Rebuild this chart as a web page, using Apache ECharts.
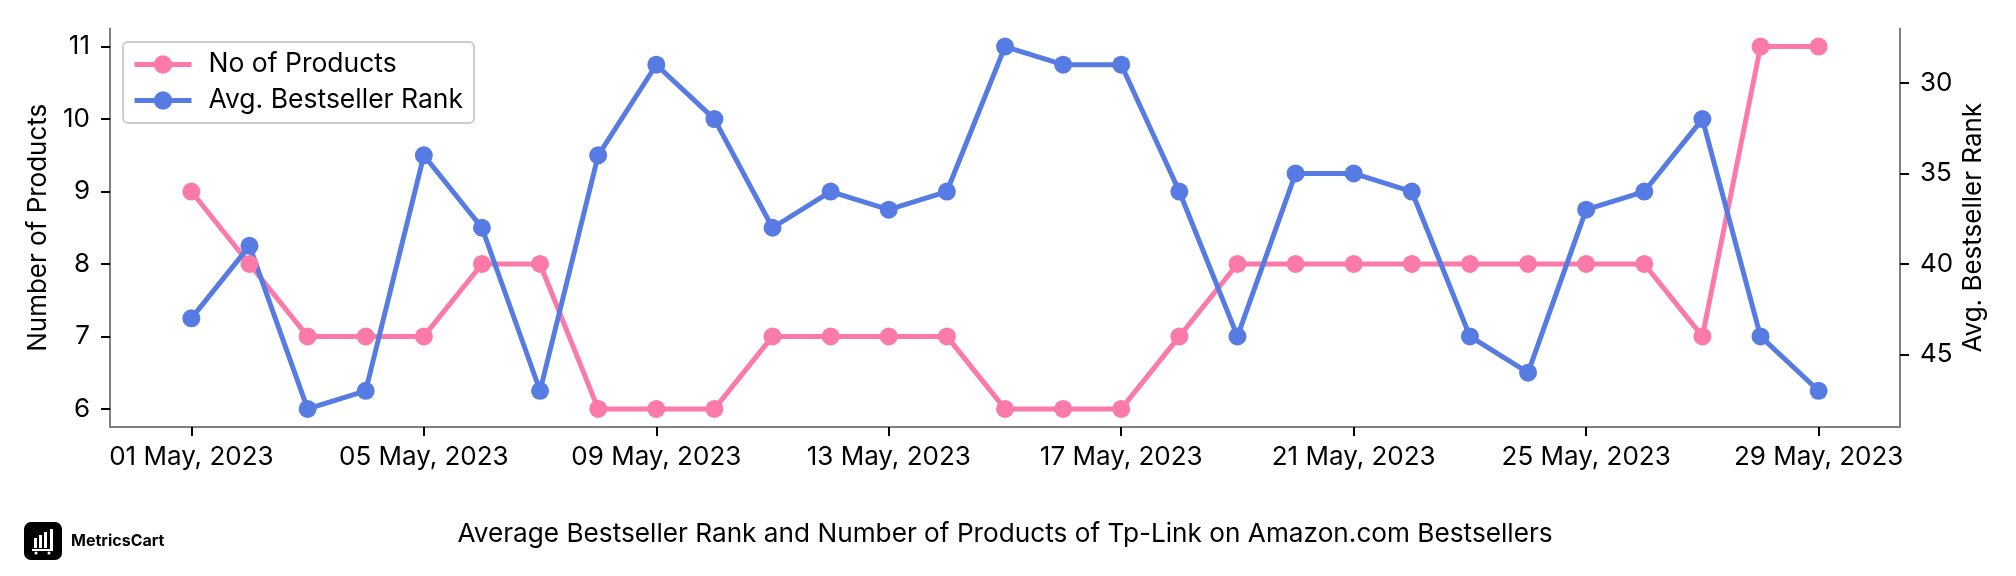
<!DOCTYPE html>
<html>
<head>
<meta charset="utf-8">
<title>Tp-Link bestsellers</title>
<script src="https://cdn.jsdelivr.net/npm/echarts@6/dist/echarts.min.js"></script>
<style>
  html, body { margin: 0; padding: 0; background: #fff; }
  #chart { width: 2016px; height: 576px; }
</style>
</head>
<body>
<div id="chart"></div>
<script>
  // day of month, 1 May - 29 May 2023
  const days = [1,2,3,4,5,6,7,8,9,10,11,12,13,14,15,16,17,18,19,20,21,22,23,24,25,26,27,28,29];
  const noOfProducts = [9,8,7,7,7,8,8,6,6,6,7,7,7,7,6,6,6,7,8,8,8,8,8,8,8,8,7,11,11];
  const bestsellerRank = [43,39,48,47,34,38,47,34,29,32,38,36,37,36,28,29,29,36,44,35,35,36,44,46,37,36,32,44,47];

  const xTicks = [1,5,9,13,17,21,25,29];
  const xTickLabels = ['01 May, 2023','05 May, 2023','09 May, 2023','13 May, 2023','17 May, 2023','21 May, 2023','25 May, 2023','29 May, 2023'];
  const leftTicks = [6,7,8,9,10,11];
  const rightTicks = [30,35,40,45];

  const FONT = 'Inter';
  const PINK = '#fb7aa9';
  const BLUE = '#567be2';
  const SPINE = '#808080';
  const TEXT_SIZE = 26;

  function yAxisBase(name, ticks, nameGap) {
    return {
      type: 'value',
      name: name,
      nameLocation: 'middle',
      nameGap: nameGap,
      nameMoveOverlap: false,
      nameTextStyle: { color: '#000', fontFamily: FONT, fontSize: TEXT_SIZE },
      splitLine: { show: false },
      axisLine: { show: true, onZero: false, lineStyle: { color: SPINE, width: 2 } },
      axisTick: { show: true, length: 9, customValues: ticks, lineStyle: { color: '#000', width: 2 } },
      axisLabel: { customValues: ticks, color: '#000', fontFamily: FONT, fontSize: TEXT_SIZE, margin: 20, hideOverlap: false }
    };
  }

  function lineSeries(name, color, values, yAxisIndex) {
    return {
      name: name,
      type: 'line',
      yAxisIndex: yAxisIndex,
      data: days.map((d, i) => [d, values[i]]),
      symbol: 'circle',
      symbolSize: 18,
      showAllSymbol: true,
      clip: false,
      itemStyle: { color: color },
      lineStyle: { color: color, width: 5 }
    };
  }

  const chart = echarts.init(document.getElementById('chart'), null, { renderer: 'canvas' });
  chart.setOption({
    animation: false,
    backgroundColor: '#fff',
    title: {
      text: 'Average Bestseller Rank and Number of Products of Tp-Link on Amazon.com Bestsellers',
      left: 1000,
      textAlign: 'center',
      top: 516,
      textStyle: { color: '#000', fontFamily: FONT, fontSize: 26.2, fontWeight: 'normal' }
    },
    legend: {
      left: 123,
      top: 42,
      orient: 'vertical',
      padding: [9, 11, 9, 9],
      itemWidth: 57,
      itemHeight: 23,
      itemGap: 9,
      borderColor: '#cccccc',
      borderWidth: 2,
      borderRadius: 5,
      backgroundColor: 'rgba(255,255,255,0.8)',
      lineStyle: { width: 5 },
      textStyle: { color: '#000', fontFamily: FONT, fontSize: 26.5, padding: [0, 0, 0, 12] },
      data: ['No of Products', 'Avg. Bestseller Rank']
    },
    grid: { left: 110, right: 116, top: 28.5, bottom: 149, outerBoundsMode: 'none' },
    xAxis: {
      type: 'value',
      min: -0.4,
      max: 30.4,
      splitLine: { show: false },
      axisLine: { show: true, onZero: false, lineStyle: { color: SPINE, width: 2 } },
      axisTick: { show: true, length: 9, customValues: xTicks, lineStyle: { color: '#000', width: 2 } },
      axisLabel: {
        customValues: xTicks,
        color: '#000',
        fontFamily: FONT,
        fontSize: TEXT_SIZE,
        margin: 17,
        hideOverlap: false,
        formatter: v => xTickLabels[xTicks.indexOf(v)]
      }
    },
    yAxis: [
      Object.assign(yAxisBase('Number of Products', leftTicks, 59), { position: 'left', min: 5.75, max: 11.25 }),
      Object.assign(yAxisBase('Avg. Bestseller Rank', rightTicks, 60), { position: 'right', min: 27, max: 49, inverse: true })
    ],
    series: [
      lineSeries('No of Products', PINK, noOfProducts, 0),
      lineSeries('Avg. Bestseller Rank', BLUE, bestsellerRank, 1)
    ],
    graphic: [
      { type: 'rect', shape: { x: 24, y: 522, width: 38, height: 38, r: 7 }, style: { fill: '#000' } },
      { type: 'rect', shape: { x: 34, y: 538, width: 3, height: 10 }, style: { fill: '#fff' } },
      { type: 'rect', shape: { x: 39, y: 535, width: 3, height: 13 }, style: { fill: '#fff' } },
      { type: 'rect', shape: { x: 44, y: 532, width: 3, height: 16 }, style: { fill: '#fff' } },
      { type: 'rect', shape: { x: 50, y: 529, width: 3, height: 21 }, style: { fill: '#fff' } },
      { type: 'rect', shape: { x: 32, y: 549, width: 21, height: 2 }, style: { fill: '#fff' } },
      { type: 'circle', shape: { cx: 36, cy: 553, r: 1.5 }, style: { fill: '#fff' } },
      { type: 'circle', shape: { cx: 49, cy: 553, r: 1.5 }, style: { fill: '#fff' } },
      { type: 'text', style: { x: 71, y: 541, text: 'MetricsCart', fill: '#000', font: 'bold 16px ' + FONT, textVerticalAlign: 'middle' } }
    ]
  });
</script>
</body>
</html>
